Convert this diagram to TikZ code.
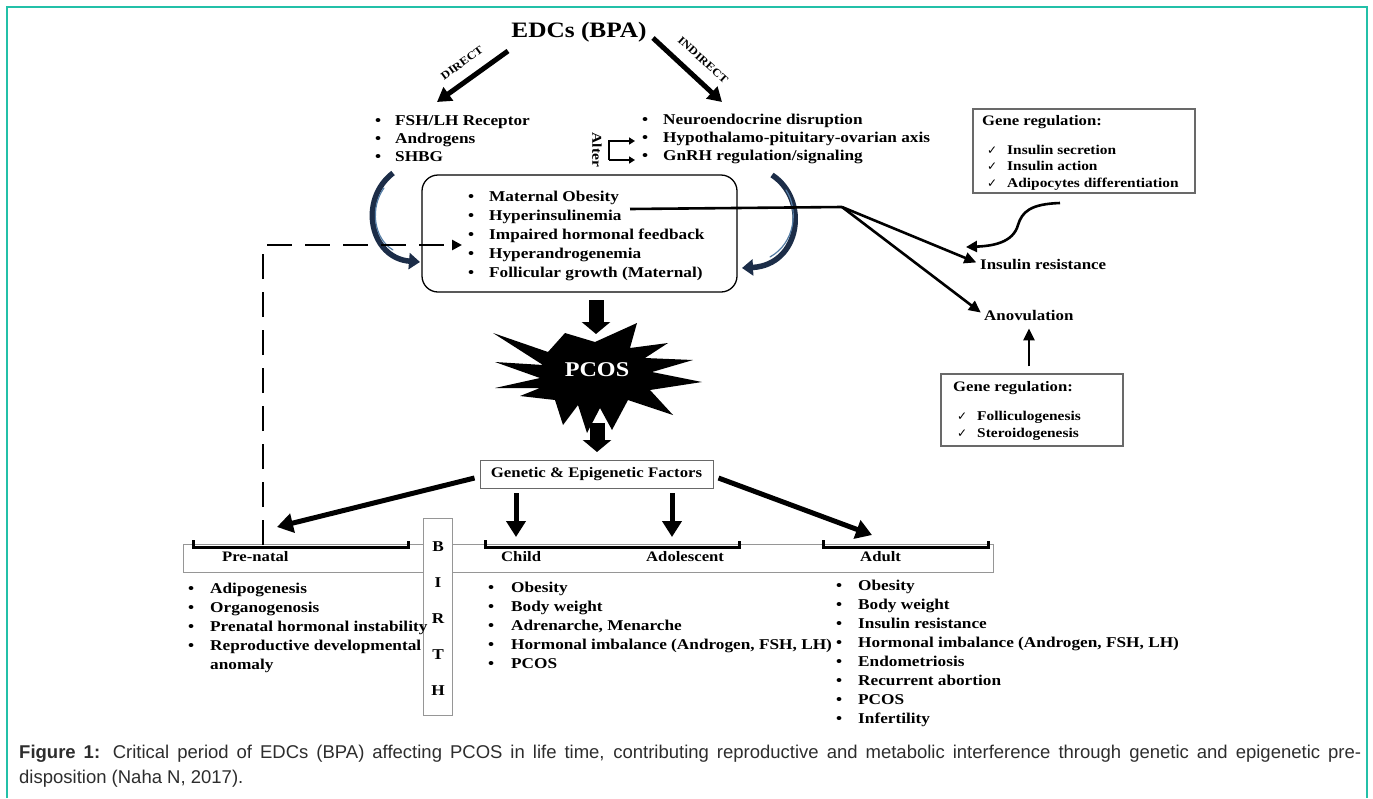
\documentclass[tikz,border=0pt]{standalone}
\usepackage{fontspec}
\setmainfont{Liberation Serif}[FakeStretch=1.15]
\newfontfamily\capfont{Liberation Sans}
\newfontfamily\symfont{DejaVu Sans}
\usetikzlibrary{arrows.meta,calc}
\definecolor{frameteal}{RGB}{35,192,168}
\definecolor{boxgray}{RGB}{105,105,105}
\definecolor{linegray}{RGB}{150,150,150}
\definecolor{navy}{RGB}{28,45,72}
\definecolor{navylight}{RGB}{85,125,165}
\definecolor{captext}{RGB}{45,45,45}
\newcommand{\bu}[1]{\makebox[#1][l]{\textbullet}}
\newcommand{\ck}{\makebox[20pt][l]{\symfont\fontsize{12}{12}\selectfont ✓}}
\begin{document}
\begin{tikzpicture}[x=1pt,y=-1pt,
  lstA/.style={inner sep=0pt, anchor=west, align=left, font=\bfseries\fontsize{15}{18}\selectfont},
  lstB/.style={inner sep=0pt, anchor=west, align=left, font=\bfseries\fontsize{15}{19}\selectfont},
  lbl/.style={inner sep=0pt, anchor=west, font=\bfseries\fontsize{14.5}{16}\selectfont},
  small/.style={inner sep=0pt, font=\bfseries\fontsize{11}{12}\selectfont},
  bigarr/.style={line width=5pt, -{Triangle[length=14pt,width=16pt]}},
  medarr/.style={line width=2.6pt, shorten >=4pt, -{Triangle[length=12pt,width=11pt]}},
  genarr/.style={line width=5pt, -{Triangle[length=16pt,width=19pt]}},
  altarr/.style={line width=1.6pt, -{Triangle[length=6pt,width=7pt]}},
  curvarr/.style={line width=5.5pt, navy, -{Triangle[length=11pt,width=16pt]}},
  blockarr/.style={line width=15pt, -{Triangle[length=12pt,width=28pt]}},
  brk/.style={line width=3pt},
  gbox/.style={draw=boxgray, line width=1.2pt, inner sep=0pt},
]
\useasboundingbox (0,0) rectangle (1373,798);
% frame
\draw[frameteal, line width=2pt] (6.5,798) -- (6.5,6.5) -- (1367,6.5) -- (1367,798);

% ---------- top ----------
\node[inner sep=0pt, font=\bfseries\fontsize{22}{24}\selectfont] (edc) at (579,32) {EDCs (BPA)};
\coordinate (d1) at (508,51); \coordinate (d2) at (437,102);
\coordinate (i1) at (653,38); \coordinate (i2) at (722,102);
\draw[bigarr] (d1) -- (d2);
\draw[bigarr] (i1) -- (i2);
\node[small, rotate=36] (dl) at (462,63) {DIRECT};
\node[small, rotate=-42] (il) at (703,60) {INDIRECT};

\node[lstA] (ll) at (375,139) {\bu{20pt}FSH/LH Receptor\\\bu{20pt}Androgens\\\bu{20pt}SHBG};
\node[lstA] (rl) at (642,139) {\bu{21pt}Neuroendocrine disruption\\\bu{21pt}Hypothalamo-pituitary-ovarian axis\\\bu{21pt}GnRH regulation/signaling};

\node[inner sep=0pt, font=\bfseries\fontsize{13.5}{14}\selectfont, rotate=-90] (alter) at (597,150) {Alter};
\coordinate (a0) at (609,141); \coordinate (a1) at (609,160);
\coordinate (a2) at (635,141); \coordinate (a3) at (635,160);
\draw[altarr] (a1) -- (a0) -- (a2);
\draw[altarr] (a1) -- (a3);

% ---------- central box ----------
\node[draw, line width=1.3pt, rounded corners=16pt, minimum width=315pt, minimum height=117pt, inner sep=0pt] (cbox) at (579.5,233.5) {};
\node[lstB] (cl) at (468,236) {\bu{21pt}Maternal Obesity\\\bu{21pt}Hyperinsulinemia\\\bu{21pt}Impaired hormonal feedback\\\bu{21pt}Hyperandrogenemia\\\bu{21pt}Follicular growth (Maternal)};

% curved arrows
\coordinate (c1s) at (393,173); \coordinate (c1e) at (420,262);
\coordinate (c2s) at (772,175); \coordinate (c2e) at (742,268);
\draw[curvarr] (c1s) .. controls (358,200) and (370,258) .. (c1e);
\draw[navylight, line width=1.2pt, line cap=round] (384,188) .. controls (370,207) and (373,238) .. (393,250);
\draw[curvarr] (c2s) .. controls (810,200) and (800,265) .. (c2e);
\draw[navylight, line width=1.2pt, line cap=round] (786,190) .. controls (799,210) and (795,243) .. (770,257);

% ---------- right side ----------
\node[lbl, font=\bfseries\fontsize{14.7}{16}\selectfont] (ir) at (980,264) {Insulin resistance};
\node[lbl, font=\bfseries\fontsize{14.7}{16}\selectfont] (ano) at (984,315) {Anovulation};
\coordinate (hy) at (630,209); \coordinate (jn) at (842,207);
\draw[line width=2.6pt] (hy) -- (jn);
\draw[medarr] (jn) -- (ir.west);
\draw[medarr] (jn) -- (ano.west);

\node[gbox, minimum width=222pt, minimum height=84pt] (g1) at (1084,151) {};
\node[lbl] (g1t) at (982,122) {Gene regulation:};
\node[inner sep=0pt, anchor=west, align=left, font=\bfseries\fontsize{13.4}{16.5}\selectfont] (g1l) at (987,167.5) {\ck Insulin secretion\\\ck Insulin action\\\ck Adipocytes differentiation};

\coordinate (w0) at (1060,203); \coordinate (w1) at (966,247);
\draw[line width=2.6pt, -{Triangle[length=11pt,width=11pt]}] (w0) .. controls (1030,204) and (1022,212) .. (1018,225) .. controls (1013,243) and (992,246) .. (w1);

\node[gbox, minimum width=182pt, minimum height=72pt] (g2) at (1032,410) {};
\node[lbl] (g2t) at (953,388) {Gene regulation:};
\node[inner sep=0pt, anchor=west, align=left, font=\bfseries\fontsize{13.4}{17}\selectfont] (g2l) at (957,425.5) {\ck Folliculogenesis\\\ck Steroidogenesis};
\coordinate (g2n) at ([xshift=-3pt]g2.north);
\draw[line width=2.6pt, shorten <=7pt, shorten >=8pt, -{Triangle[length=12pt,width=11pt]}] (g2n) -- (g2n |- ano.south);

% ---------- PCOS ----------
\fill (493,333) -- (548,352) -- (565,333) -- (595,342) -- (637,323) -- (630,348) -- (668,343) -- (645,358)
  -- (693,360) -- (652,372) -- (702,382) -- (650,390) -- (673,415) -- (628,400) -- (612,430) -- (600,408)
  -- (587,433) -- (578,405) -- (563,425) -- (555,400) -- (520,396) -- (540,388) -- (495,388) -- (540,378)
  -- (495,362) -- (543,365) -- cycle;
\node[inner sep=0pt, text=white, font=\bfseries\fontsize{21}{22}\selectfont] (pcos) at (597,370) {PCOS};
\coordinate (b1) at (596,300); \coordinate (b2) at (596,334);
\draw[blockarr] (b1) -- (b2);
\coordinate (b3) at (597,423); \coordinate (b4) at (597,452);
\draw[blockarr] (b3) -- (b4);

\node[draw=boxgray, line width=1pt, minimum width=233pt, minimum height=28pt, inner sep=0pt, font=\bfseries\fontsize{14.6}{16}\selectfont] (gen) at (596.5,474) {Genetic \& Epigenetic Factors};

% ---------- timeline ----------
\node[draw=linegray, line width=1pt, minimum width=810pt, minimum height=28pt, inner sep=0pt] (tl) at (588,558) {};
\node[draw=linegray, fill=white, line width=1pt, minimum width=29pt, minimum height=197pt, inner sep=0pt] (birth) at (437.5,616.5) {};
\node[inner sep=0pt, align=center, font=\bfseries\fontsize{15}{36}\selectfont] (birtht) at (438,619) {B\\I\\R\\T\\H};

\draw[brk] (193,540) -- (193,547) -- (408,547) -- (408,541);
\draw[brk] (485,540) -- (485,547) -- (739,547) -- (739,541);
\draw[brk] (823,540) -- (823,547) -- (988,547) -- (988,541);

\node[lbl] (pnl) at (222,557) {Pre-natal};
\node[lbl] (chl) at (501,557) {Child};
\node[lbl] (adl) at (646,557) {Adolescent};
\node[lbl] (aul) at (860,557) {Adult};

% genetic arrows
\coordinate (gA) at ([xshift=-5pt,yshift=-4pt]gen.west);
\coordinate (gB) at ([xshift=5pt,yshift=-4pt]gen.east);
\coordinate (tP) at (277,527); \coordinate (tA) at (872,535);
\coordinate (dA1) at (516,493); \coordinate (dA2) at (516,537);
\coordinate (dB1) at (672,493); \coordinate (dB2) at (672,537);
\draw[genarr] (gA) -- (tP);
\draw[genarr] (gB) -- (tA);
\draw[genarr] (dA1) -- (dA2);
\draw[genarr] (dB1) -- (dB2);

% dashed feedback
\coordinate (ds0) at (263,545); \coordinate (ds2) at (462,245);
\draw[line width=2.8pt, dash pattern=on 25pt off 13pt, -{Triangle[length=10pt,width=10pt]}] (ds0) |- (ds2);

% bottom lists
\node[lstB] (pnlist) at (188,627.5) {\bu{22pt}Adipogenesis\\\bu{22pt}Organogenosis\\\bu{22pt}Prenatal hormonal instability\\\bu{22pt}Reproductive developmental\\\hspace*{22pt}anomaly};
\node[lstB] (chlist) at (488,625) {\bu{23pt}Obesity\\\bu{23pt}Body weight\\\bu{23pt}Adrenarche, Menarche\\\bu{23pt}Hormonal imbalance (Androgen, FSH, LH)\\\bu{23pt}PCOS};
\node[lstB] (aulist) at (836,653.5) {\bu{22pt}Obesity\\\bu{22pt}Body weight\\\bu{22pt}Insulin resistance\\\bu{22pt}Hormonal imbalance (Androgen, FSH, LH)\\\bu{22pt}Endometriosis\\\bu{22pt}Recurrent abortion\\\bu{22pt}PCOS\\\bu{22pt}Infertility};

% caption
\node[anchor=north west, inner sep=0pt, align=left, text=captext, font=\capfont\fontsize{18.5}{25}\selectfont] (cap) at (19,745)
 {\spaceskip=0.278em plus 0.6em minus 0.12em\hbox to 1342pt{\textbf{Figure 1:} Critical period of EDCs (BPA) affecting PCOS in life time, contributing reproductive and metabolic interference through genetic and epigenetic pre-}\\disposition (Naha N, 2017).};
\end{tikzpicture}
\end{document}
